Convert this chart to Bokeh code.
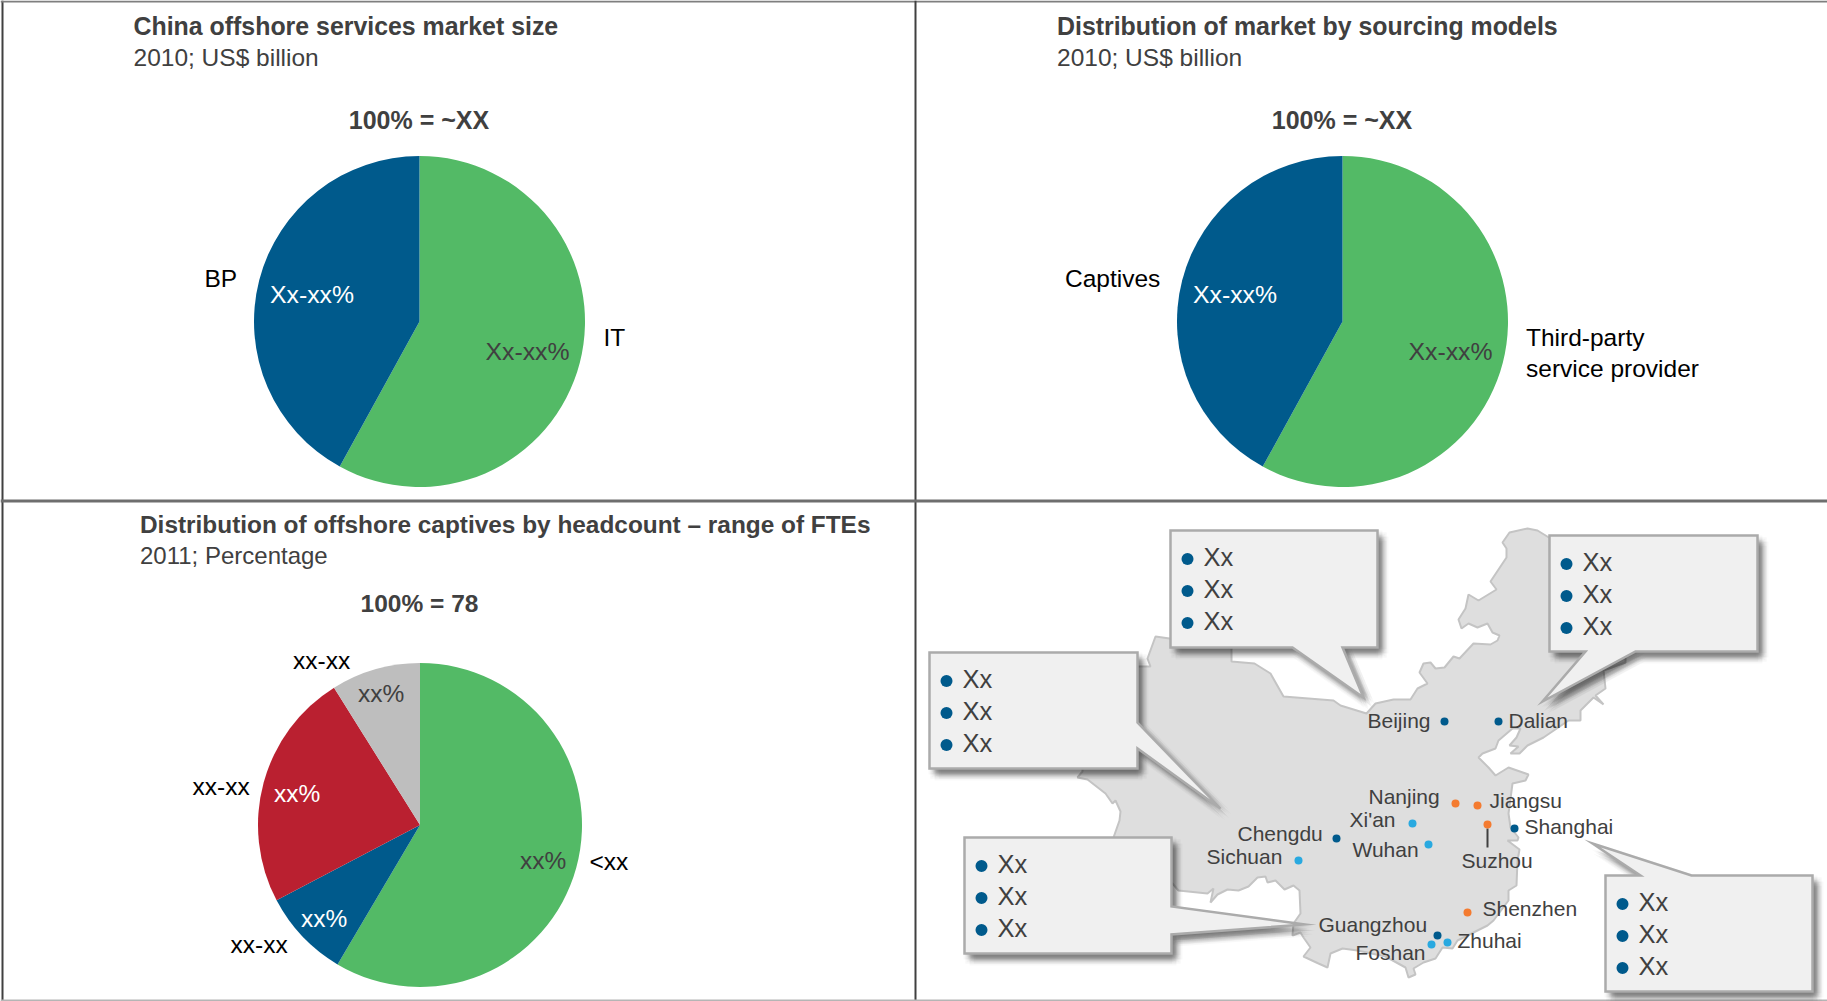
from bokeh.plotting import figure
from bokeh.models import Range1d
from bokeh.core.properties import value
from bokeh.embed import file_html
from bokeh.resources import INLINE
import math

W, H = 1827, 1001
FONT = value("Liberation Sans")
GREEN, BLUE, RED, GREY = "#53BA66", "#005A8C", "#BA2030", "#BEBEBE"
DARK, LIGHT, ORANGE = "#005A8C", "#29A9E0", "#F47B30"
TXT = "#404040"
BASE_SHIFT = 8

# ---- data ----
market_categories = ["IT", "BP"]
market_values = [58, 42]
sourcing_categories = ["Third-party service provider", "Captives"]
sourcing_values = [58, 42]
headcount_categories = ["<xx", "xx-xx (1)", "xx-xx (2)", "xx-xx (3)"]
headcount_values = [58.5, 8.8, 23.8, 8.9]

city_names = ["Beijing", "Dalian", "Nanjing", "Jiangsu", "Suzhou", "Shanghai", "Xi'an", "Wuhan",
              "Chengdu", "Sichuan", "Shenzhen", "Guangzhou", "Foshan", "Zhuhai"]
city_x = [1444, 1498, 1455, 1477, 1487, 1514, 1412, 1428, 1336, 1298, 1467, 1437, 1431, 1447]
city_y = [721, 721, 803, 805, 824, 828, 823, 844, 838, 860, 912, 935, 944, 942]
city_colors = [DARK, DARK, ORANGE, ORANGE, ORANGE, DARK, LIGHT, LIGHT, DARK, LIGHT, ORANGE, DARK, LIGHT, LIGHT]
label_x = [1367, 1508, 1368, 1489, 1461, 1524, 1349, 1352, 1237, 1206, 1482, 1318, 1355, 1457]
label_y = [728, 728, 804, 808, 868, 834, 827, 857, 841, 864, 916, 932, 960, 948]

map_outline = [
    (1550,538),(1537,530),(1527,528),(1509,532),(1502,542),(1506,548),(1506,557),(1490,581),(1496,589),
    (1478,600),(1468,594),(1465,608),(1458,619),(1461,628),(1468,623),(1477,627),(1487,623),(1492,632),
    (1499,635),(1497,640),(1490,644),(1473,643),(1459,658),(1453,656),(1444,667),(1435,668),(1430,662),
    (1423,663),(1419,672),(1427,683),(1417,688),(1410,699),(1393,699),(1375,703),(1366,713),(1340,705),
    (1333,700),(1283,696),(1270,673),(1254,663),(1231,661),(1231,647),(1169,638),(1155,636),(1147,658),
    (1150,666),(1137,666),(1120,700),(1082,765),(1082,771),(1077,777),(1087,779),(1105,793),(1112,803),
    (1115,800),(1120,811),(1119,820),(1113,837),(1140,860),(1172,883),(1178,890),(1207,893),(1213,888),
    (1210,902),(1217,894),(1227,889),(1238,890),(1248,886),(1257,877),(1265,876),(1267,882),(1275,880),
    (1284,889),(1293,885),(1299,890),(1300,913),(1293,923),(1292,935),(1300,932),(1303,937),(1310,947),
    (1303,956),(1318,963),(1327,967),(1330,953),(1342,948),(1357,950),(1385,956),(1405,967),(1408,977),
    (1415,974),(1413,968),(1423,962),(1435,958),(1442,947),(1452,948),(1457,940),(1487,925),(1493,920),
    (1508,900),(1508,890),(1516,885),(1517,860),(1519,849),(1507,840),(1517,840),(1518,837),(1510,827),
    (1508,813),(1512,783),(1525,780),(1528,774),(1508,767),(1495,775),(1488,767),(1478,757),(1482,753),
    (1495,748),(1498,740),(1512,728),(1520,728),(1516,737),(1509,745),(1518,746),(1510,753),(1519,753),
    (1527,745),(1543,737),(1568,720),(1580,720),(1580,710),(1593,697),(1603,704),(1595,695),(1605,688),
    (1603,670),(1625,662),(1625,640),(1570,600),
]

callouts = [
    [(1170,530),(1377,530),(1377,647),(1342,647),(1363,697),(1292,647),(1170,647)],
    [(1549,535),(1757,535),(1757,651),(1635,651),(1542,701),(1585,651),(1549,651)],
    [(929,652),(1137,652),(1137,722),(1220,808),(1137,748),(1137,768),(929,768)],
    [(964,837),(1171,837),(1171,906),(1304,924),(1171,934),(1171,953),(964,953)],
    [(1605,875),(1640,875),(1592,843),(1691,875),(1812,875),(1812,991),(1605,991)],
]
callout_left = [1170, 1549, 929, 964, 1605]
callout_top = [530, 535, 652, 837, 875]
callout_items = ["Xx", "Xx", "Xx"]

# ---- canvas in reference pixels ----
p = figure(width=W, height=H, x_range=Range1d(0, W), y_range=Range1d(0, H), output_backend="svg",
           toolbar_location=None, min_border=0, outline_line_color=None, background_fill_color="white")
p.axis.visible = False
p.grid.visible = False
p.styles = {"position": "absolute", "left": "0px", "top": "0px"}


def Y(v):
    return H - v


def text(x, y, s, size=24.5, color=TXT, bold=False, align="left"):
    p.text([x], [Y(y - BASE_SHIFT)], text=[s], text_font=FONT, text_font_size=f"{size}px", text_color=color,
           text_align=align, text_baseline="alphabetic", text_font_style="bold" if bold else "normal")


def pie(cx, cy, r, values, colors):
    total = sum(values)
    a = 0
    for v, c in zip(values, colors):
        b = a + v
        p.wedge([cx], [Y(cy)], radius=r,
                start_angle=math.pi / 2 - a / total * 2 * math.pi,
                end_angle=math.pi / 2 - b / total * 2 * math.pi,
                direction="clock", fill_color=c, line_color=None)
        a = b


# frame lines
p.line([2, 2], [0, H], line_color="#404040", line_width=2)
p.line([0, W], [Y(1), Y(1)], line_color="#7F7F7F", line_width=2)
p.line([915, 915], [0, H], line_color="#404040", line_width=2)
p.line([0, W], [Y(500.5), Y(500.5)], line_color="#6E6E6E", line_width=3)
p.line([0, W], [Y(1000), Y(1000)], line_color="#B5B5B5", line_width=2)

# pies
pie(419, 321, 165.5, market_values, [GREEN, BLUE])
pie(1342, 321, 165.5, sourcing_values, [GREEN, BLUE])
pie(419.5, 824.5, 162, headcount_values, [GREEN, BLUE, RED, GREY])

# top-left
text(133, 33, "China offshore services market size", 24.9, bold=True)
text(133, 65, "2010; US$ billion")
text(418.5, 127, "100% = ~XX", 25, bold=True, align="center")
text(204, 286, "BP", color="black")
text(603, 345, market_categories[0], color="black")
text(269.5, 302, "Xx-xx%", 24.8, color="white")
text(485, 359, "Xx-xx%", 24.8)

# top-right
text(1056.5, 33, "Distribution of market by sourcing models", 24.9, bold=True)
text(1056.5, 65, "2010; US$ billion")
text(1341.5, 127, "100% = ~XX", 25, bold=True, align="center")
text(1064.5, 286, sourcing_categories[1], color="black")
text(1525.5, 345, "Third-party", color="black")
text(1525.5, 376, "service provider", color="black")
text(1192.5, 302, "Xx-xx%", 24.8, color="white")
text(1408, 359, "Xx-xx%", 24.8)

# bottom-left
text(139.5, 532, "Distribution of offshore captives by headcount \u2013 range of FTEs", 24.4, bold=True)
text(139.5, 563, "2011; Percentage", 24)
text(419, 611, "100% = 78", 24.5, bold=True, align="center")
text(292.5, 668, "xx-xx", color="black")
text(192, 793.5, "xx-xx", color="black")
text(230, 952, "xx-xx", color="black")
text(589, 869, "<xx", color="black")
text(357.5, 701, "xx%")
text(273.5, 801, "xx%", color="white")
text(300.5, 926, "xx%", color="white")
text(519.5, 868, "xx%")

# map
p.patch([q[0] for q in map_outline], [Y(q[1]) for q in map_outline], fill_color="#DEDEDE",
        line_color="#C4C4C4", line_width=2)

# city dots and labels
p.line([1487, 1487], [Y(828), Y(847)], line_color=TXT, line_width=2)
p.scatter(city_x, [Y(v) for v in city_y], size=8, color=city_colors, line_color=None)
p.text(label_x, [Y(v - BASE_SHIFT) for v in label_y], text=city_names, text_font=FONT, text_font_size="21px",
       text_color=TXT, text_baseline="alphabetic")

# callouts: soft shadow from stacked offset copies
shadow_kernel = [(0, 0)] + [(r * math.cos(k * math.pi / 4), r * math.sin(k * math.pi / 4))
                            for r in (2, 4, 6) for k in range(8)]
for poly in callouts:
    xs = [q[0] for q in poly]
    ys = [q[1] for q in poly]
    for dx, dy in shadow_kernel:
        p.patch([x + 5 + dx for x in xs], [Y(y + 6 + dy) for y in ys], fill_color="black", fill_alpha=0.027,
                line_color=None)
for poly, left, top in zip(callouts, callout_left, callout_top):
    xs = [q[0] for q in poly]
    ys = [q[1] for q in poly]
    p.patch(xs, [Y(y) for y in ys], fill_color="#F0F0F0", line_color="#ABABAB", line_width=2.5,
            line_join="miter")
    for i, item in enumerate(callout_items):
        p.scatter([left + 17], [Y(top + 28.5 + 32 * i)], size=12, color=DARK, line_color=None)
        text(left + 33, top + 34.5 + 32 * i, item, 25.5)

open("out.html", "w").write(file_html(p, INLINE))
